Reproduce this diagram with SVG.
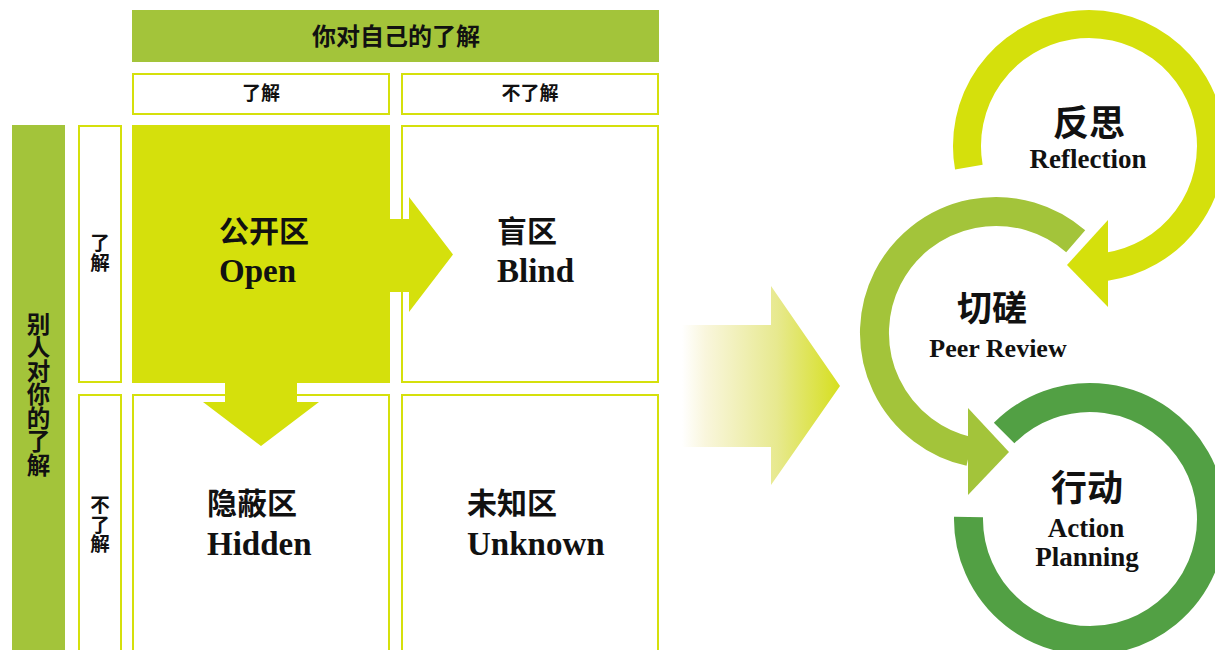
<svg xmlns="http://www.w3.org/2000/svg" width="1215" height="650" viewBox="0 0 1215 650">
  <defs>
    <style>
      .cjk { font-family: "Noto Sans CJK SC", sans-serif; font-weight: bold; fill: #111; }
      .lat { font-family: "Liberation Serif", serif; font-weight: bold; fill: #111; }
      .box { fill: #fff; stroke: #d5e00c; stroke-width: 2; }
      .band { fill: #a3c43a; }
      .lime { fill: #d5e00c; }
      .mid { text-anchor: middle; }
      .vert { writing-mode: vertical-rl; text-orientation: upright; }
    </style>
    <linearGradient id="fade" gradientUnits="userSpaceOnUse" x1="682" y1="0" x2="840" y2="0">
      <stop offset="0" stop-color="#ffffff"/>
      <stop offset="0.15" stop-color="#f9f6dc"/>
      <stop offset="0.6" stop-color="#e7e98f"/>
      <stop offset="1" stop-color="#d6df1f"/>
    </linearGradient>
  </defs>
  <rect width="1215" height="650" fill="#fff"/>

  <g id="top-banner">
    <rect class="band" x="132" y="10" width="527" height="52"/>
    <text class="cjk mid" x="396" y="45" font-size="24">你对自己的了解</text>
  </g>
  <g id="col-know">
    <rect class="box" x="133" y="74" width="256" height="40"/>
    <text class="cjk mid" x="261" y="100" font-size="19">了解</text>
  </g>
  <g id="col-unknown">
    <rect class="box" x="402" y="74" width="256" height="40"/>
    <text class="cjk mid" x="530" y="100" font-size="19">不了解</text>
  </g>
  <g id="left-banner">
    <rect class="band" x="12" y="125" width="53" height="530"/>
    <text class="cjk vert" x="38.5" y="312" font-size="23.5">别人对你的了解</text>
  </g>
  <g id="row-know">
    <rect class="box" x="79" y="126" width="42" height="256"/>
    <text class="cjk vert" x="100" y="233" font-size="19.5">了解</text>
  </g>
  <g id="row-unknown">
    <rect class="box" x="79" y="395" width="42" height="265"/>
    <text class="cjk vert" x="100" y="495" font-size="19.5">不了解</text>
  </g>

  <g id="blind">
    <rect class="box" x="402" y="126" width="256" height="256"/>
    <text class="cjk" x="497" y="242" font-size="30">盲区</text>
    <text class="lat" x="497" y="282" font-size="33">Blind</text>
  </g>
  <g id="hidden">
    <rect class="box" x="133" y="395" width="256" height="265"/>
    <text class="cjk" x="207" y="514" font-size="30">隐蔽区</text>
    <text class="lat" x="207" y="555" font-size="33">Hidden</text>
  </g>
  <g id="unknown">
    <rect class="box" x="402" y="395" width="256" height="265"/>
    <text class="cjk" x="467" y="514" font-size="30">未知区</text>
    <text class="lat" x="467" y="555" font-size="33">Unknown</text>
  </g>

  <g id="connectors">
    <polygon class="lime" points="385,219 409,219 409,197 453,254.5 409,312 409,292 385,292"/>
    <polygon class="lime" points="225,380 297,380 297,402 319,402 261,446 203,402 225,402"/>
    <polygon fill="url(#fade)" points="682,325 771,325 771,286 840,386 771,485 771,447 682,447"/>
    <path d="M 968.85 167.19 A 122 122 0 1 1 1105.98 266.8" fill="none" stroke="#d5e00c" stroke-width="28"/>
    <polygon class="lime" points="1108,220 1067,265 1108,307"/>
    <path d="M 1075.7 241.3 A 121.5 121.5 0 1 0 969.7 451.6" fill="none" stroke="#a3c43a" stroke-width="29"/>
    <polygon fill="#a3c43a" points="968,408 1009,452 968,495"/>
    <path d="M 1004.1 433.1 A 121.5 121.5 0 1 1 968.5 516.9" fill="none" stroke="#52a044" stroke-width="29"/>
  </g>

  <g id="open">
    <rect class="lime" x="132" y="125" width="258" height="258"/>
    <text class="cjk" x="219" y="242" font-size="30">公开区</text>
    <text class="lat" x="219" y="282" font-size="33">Open</text>
  </g>

  <g id="reflection">
    <text class="cjk mid" x="1089" y="136" font-size="36">反思</text>
    <text class="lat mid" x="1088" y="168" font-size="27">Reflection</text>
  </g>
  <g id="peer-review">
    <text class="cjk mid" x="992" y="321" font-size="35">切磋</text>
    <text class="lat mid" x="998" y="357" font-size="26">Peer Review</text>
  </g>
  <g id="action">
    <text class="cjk mid" x="1087" y="501" font-size="36">行动</text>
    <text class="lat mid" x="1086" y="537" font-size="27">Action</text>
    <text class="lat mid" x="1087" y="566" font-size="27">Planning</text>
  </g>
</svg>
